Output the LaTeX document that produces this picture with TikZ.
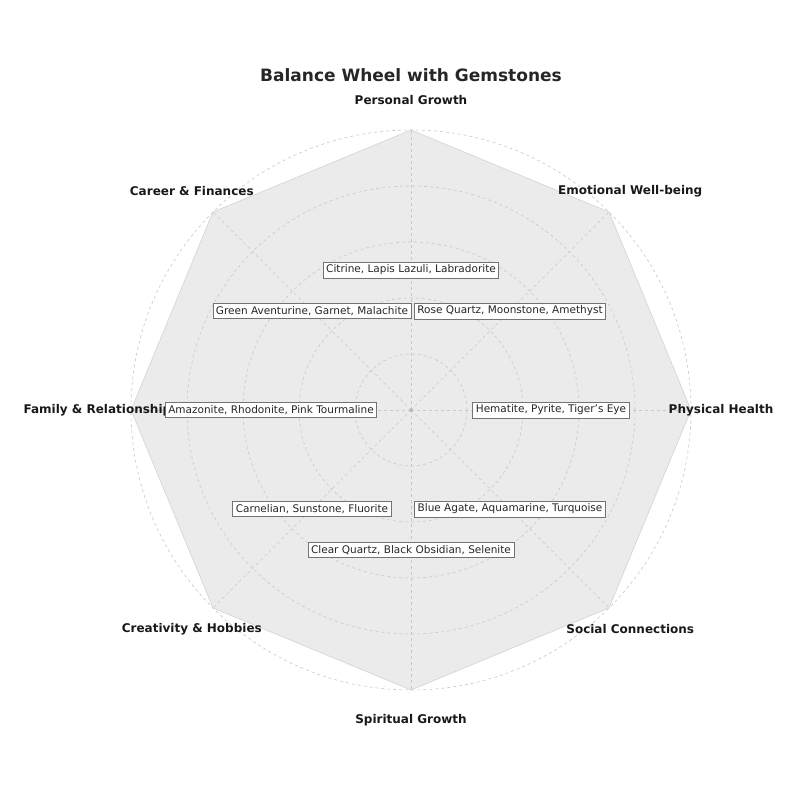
\documentclass[tikz,border=0pt]{standalone}
\usepackage{fontspec}
\setmainfont{DejaVu Sans}
\usetikzlibrary{positioning,calc}
\definecolor{wheelfill}{HTML}{EBEBEB}
\definecolor{gridgray}{HTML}{C8C8C8}
\tikzset{
  grid line/.style={gridgray, dashed, line width=0.6pt},
  area label/.style={font=\bfseries\fontsize{12}{14}\selectfont, text=black!90},
  gem box/.style={draw=black!55, fill=white, line width=0.8pt, inner sep=3pt,
    font=\fontsize{10.5}{12}\selectfont, text=black!85}
}
\begin{document}
\begin{tikzpicture}[x=1pt,y=1pt]
  \useasboundingbox (0,0) rectangle (794,794);
  \coordinate (c) at (411,384);
  % filled octagon
  \filldraw[fill=wheelfill, draw=gridgray!80, line width=0.6pt]
    ($(c)+(90:280)$) -- ($(c)+(45:280)$) -- ($(c)+(0:280)$) -- ($(c)+(-45:280)$)
    -- ($(c)+(-90:280)$) -- ($(c)+(-135:280)$) -- ($(c)+(180:280)$) -- ($(c)+(135:280)$) -- cycle;
  % grid
  \foreach \r in {56,112,168,224,280}
    \draw[grid line] (c) circle (\r);
  \foreach \a in {0,45,...,315}
    \draw[grid line] (c) -- ++(\a:280);
  \fill[gray!70] (c) circle (1.5);
  % title
  \node[font=\bfseries\fontsize{17}{20}\selectfont, text=black!85] (title) at (411,719) {Balance Wheel with Gemstones};
  % area labels
  \foreach \a/\name/\txt in {90/pg/Personal Growth, 45/ew/Emotional Well-being,
      0/ph/Physical Health, -45/sc/Social Connections, -90/sg/Spiritual Growth,
      -135/ch/Creativity \& Hobbies, 180/fr/Family \& Relationships, 135/cf/Career \& Finances}
    \node[area label] (\name) at ($(c)+(\a:310)$) {\txt};
  % gemstone boxes
  \foreach \a/\name/\txt in {90/gpg/{Citrine, Lapis Lazuli, Labradorite},
      45/gew/{Rose Quartz, Moonstone, Amethyst},
      0/gph/{Hematite, Pyrite, Tiger's Eye},
      -135/gch/{Carnelian, Sunstone, Fluorite},
      -45/gsc/{Blue Agate, Aquamarine, Turquoise},
      -90/gsg/{Clear Quartz, Black Obsidian, Selenite},
      180/gfr/{Amazonite, Rhodonite, Pink Tourmaline},
      135/gcf/{Green Aventurine, Garnet, Malachite}}
    \node[gem box] (\name) at ($(c)+(\a:140)$) {\txt};
\end{tikzpicture}
\end{document}
